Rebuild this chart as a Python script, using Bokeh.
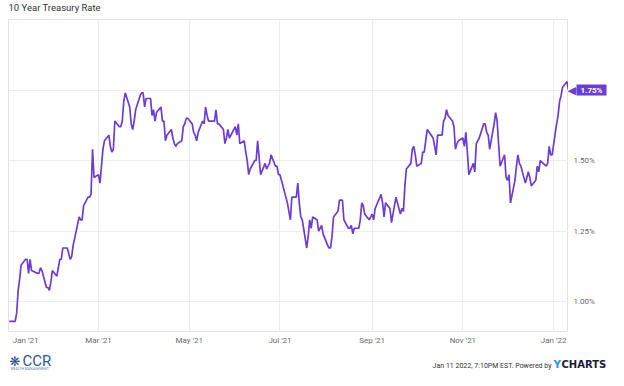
import pandas as pd
from bokeh.plotting import figure
from bokeh.layouts import column, row
from bokeh.models import (ColumnDataSource, Range1d, FixedTicker, DatetimeTickFormatter,
                          PrintfTickFormatter, Label, Grid)
from bokeh.core.properties import value
from bokeh.embed import file_html
from bokeh.resources import INLINE

# ---- data ----
dates = [
    "2020-12-31", "2021-01-04", "2021-01-05", "2021-01-06", "2021-01-07", "2021-01-08",
    "2021-01-11", "2021-01-12", "2021-01-13", "2021-01-14", "2021-01-15", "2021-01-19",
    "2021-01-20", "2021-01-21", "2021-01-22", "2021-01-25", "2021-01-26", "2021-01-27",
    "2021-01-28", "2021-01-29", "2021-02-01", "2021-02-02", "2021-02-03", "2021-02-04",
    "2021-02-05", "2021-02-08", "2021-02-09", "2021-02-10", "2021-02-11", "2021-02-12",
    "2021-02-16", "2021-02-17", "2021-02-18", "2021-02-19", "2021-02-22", "2021-02-23",
    "2021-02-24", "2021-02-25", "2021-02-26", "2021-03-01", "2021-03-02", "2021-03-03",
    "2021-03-04", "2021-03-05", "2021-03-08", "2021-03-09", "2021-03-10", "2021-03-11",
    "2021-03-12", "2021-03-15", "2021-03-16", "2021-03-17", "2021-03-18", "2021-03-19",
    "2021-03-22", "2021-03-23", "2021-03-24", "2021-03-25", "2021-03-26", "2021-03-29",
    "2021-03-30", "2021-03-31", "2021-04-01", "2021-04-02", "2021-04-05", "2021-04-06",
    "2021-04-07", "2021-04-08", "2021-04-09", "2021-04-12", "2021-04-13", "2021-04-14",
    "2021-04-15", "2021-04-16", "2021-04-19", "2021-04-20", "2021-04-21", "2021-04-22",
    "2021-04-23", "2021-04-26", "2021-04-27", "2021-04-28", "2021-04-29", "2021-04-30",
    "2021-05-03", "2021-05-04", "2021-05-05", "2021-05-06", "2021-05-07", "2021-05-10",
    "2021-05-11", "2021-05-12", "2021-05-13", "2021-05-14", "2021-05-17", "2021-05-18",
    "2021-05-19", "2021-05-20", "2021-05-21", "2021-05-24", "2021-05-25", "2021-05-26",
    "2021-05-27", "2021-05-28", "2021-06-01", "2021-06-02", "2021-06-03", "2021-06-04",
    "2021-06-07", "2021-06-08", "2021-06-09", "2021-06-10", "2021-06-11", "2021-06-14",
    "2021-06-15", "2021-06-16", "2021-06-17", "2021-06-18", "2021-06-21", "2021-06-22",
    "2021-06-23", "2021-06-24", "2021-06-25", "2021-06-28", "2021-06-29", "2021-06-30",
    "2021-07-01", "2021-07-02", "2021-07-06", "2021-07-07", "2021-07-08", "2021-07-09",
    "2021-07-12", "2021-07-13", "2021-07-14", "2021-07-15", "2021-07-16", "2021-07-19",
    "2021-07-20", "2021-07-21", "2021-07-22", "2021-07-23", "2021-07-26", "2021-07-27",
    "2021-07-28", "2021-07-29", "2021-07-30", "2021-08-02", "2021-08-03", "2021-08-04",
    "2021-08-05", "2021-08-06", "2021-08-09", "2021-08-10", "2021-08-11", "2021-08-12",
    "2021-08-13", "2021-08-16", "2021-08-17", "2021-08-18", "2021-08-19", "2021-08-20",
    "2021-08-23", "2021-08-24", "2021-08-25", "2021-08-26", "2021-08-27", "2021-08-30",
    "2021-08-31", "2021-09-01", "2021-09-02", "2021-09-03", "2021-09-07", "2021-09-08",
    "2021-09-09", "2021-09-10", "2021-09-13", "2021-09-14", "2021-09-15", "2021-09-16",
    "2021-09-17", "2021-09-20", "2021-09-21", "2021-09-22", "2021-09-23", "2021-09-24",
    "2021-09-27", "2021-09-28", "2021-09-29", "2021-09-30", "2021-10-01", "2021-10-04",
    "2021-10-05", "2021-10-06", "2021-10-07", "2021-10-08", "2021-10-12", "2021-10-13",
    "2021-10-14", "2021-10-15", "2021-10-18", "2021-10-19", "2021-10-20", "2021-10-21",
    "2021-10-22", "2021-10-25", "2021-10-26", "2021-10-27", "2021-10-28", "2021-10-29",
    "2021-11-01", "2021-11-02", "2021-11-03", "2021-11-04", "2021-11-05", "2021-11-08",
    "2021-11-09", "2021-11-10", "2021-11-12", "2021-11-15", "2021-11-16", "2021-11-17",
    "2021-11-18", "2021-11-19", "2021-11-22", "2021-11-23", "2021-11-24", "2021-11-26",
    "2021-11-29", "2021-11-30", "2021-12-01", "2021-12-02", "2021-12-03", "2021-12-06",
    "2021-12-07", "2021-12-08", "2021-12-09", "2021-12-10", "2021-12-13", "2021-12-14",
    "2021-12-15", "2021-12-16", "2021-12-17", "2021-12-20", "2021-12-21", "2021-12-22",
    "2021-12-23", "2021-12-27", "2021-12-28", "2021-12-29", "2021-12-30", "2021-12-31",
    "2022-01-03", "2022-01-04", "2022-01-05", "2022-01-06", "2022-01-07", "2022-01-10",
    "2022-01-11",
]
rates = [
    0.93, 0.93, 0.96, 1.04, 1.08, 1.13,
    1.15, 1.15, 1.10, 1.15, 1.11, 1.10,
    1.10, 1.12, 1.11, 1.05, 1.05, 1.04,
    1.07, 1.11, 1.09, 1.12, 1.15, 1.15,
    1.19, 1.19, 1.17, 1.15, 1.16, 1.20,
    1.30, 1.29, 1.29, 1.34, 1.37, 1.37,
    1.38, 1.54, 1.44, 1.45, 1.42, 1.48,
    1.54, 1.57, 1.59, 1.55, 1.53, 1.54,
    1.64, 1.62, 1.62, 1.64, 1.71, 1.74,
    1.69, 1.63, 1.61, 1.64, 1.68, 1.73,
    1.74, 1.74, 1.69, 1.72, 1.72, 1.66,
    1.68, 1.64, 1.67, 1.69, 1.64, 1.64,
    1.57, 1.59, 1.61, 1.58, 1.56, 1.55,
    1.56, 1.57, 1.62, 1.63, 1.65, 1.65,
    1.63, 1.60, 1.59, 1.57, 1.60, 1.64,
    1.63, 1.69, 1.66, 1.64, 1.64, 1.64,
    1.68, 1.63, 1.63, 1.61, 1.56, 1.58,
    1.61, 1.58, 1.62, 1.59, 1.63, 1.56,
    1.57, 1.53, 1.50, 1.45, 1.47, 1.50,
    1.50, 1.57, 1.51, 1.45, 1.49, 1.47,
    1.48, 1.49, 1.52, 1.48, 1.48, 1.45,
    1.45, 1.43, 1.35, 1.32, 1.29, 1.37,
    1.37, 1.42, 1.35, 1.30, 1.29, 1.19,
    1.23, 1.29, 1.26, 1.30, 1.29, 1.25,
    1.26, 1.27, 1.24, 1.20, 1.19, 1.19,
    1.23, 1.30, 1.32, 1.36, 1.36, 1.36,
    1.29, 1.26, 1.26, 1.27, 1.24, 1.26,
    1.26, 1.29, 1.35, 1.34, 1.31, 1.29,
    1.30, 1.31, 1.29, 1.33, 1.38, 1.35,
    1.30, 1.35, 1.33, 1.28, 1.31, 1.34,
    1.37, 1.31, 1.33, 1.32, 1.41, 1.47,
    1.49, 1.54, 1.55, 1.52, 1.48, 1.49,
    1.53, 1.53, 1.57, 1.61, 1.58, 1.55,
    1.52, 1.59, 1.59, 1.64, 1.65, 1.68,
    1.66, 1.64, 1.62, 1.54, 1.56, 1.57,
    1.58, 1.55, 1.60, 1.53, 1.45, 1.49,
    1.46, 1.56, 1.58, 1.63, 1.63, 1.60,
    1.59, 1.54, 1.63, 1.67, 1.64, 1.48,
    1.52, 1.44, 1.43, 1.45, 1.35, 1.43,
    1.48, 1.52, 1.49, 1.48, 1.42, 1.44,
    1.46, 1.44, 1.41, 1.43, 1.48, 1.46,
    1.50, 1.48, 1.49, 1.55, 1.52, 1.52,
    1.63, 1.66, 1.71, 1.73, 1.76, 1.78,
    1.75,
]
y_ticks = [1.00, 1.25, 1.50, 1.75]
grid_months = ["2021-03-01", "2021-05-01", "2021-07-01", "2021-09-01", "2021-11-01", "2022-01-01"]
first_label_at = "2021-01-11"   # where the clamped "Jan '21" label sits
title_text = "10 Year Treasury Rate"
stamp_text = "Jan 11 2022, 7:10PM EST. Powered by"
logo_text = "CCR"
logo_sub = "WEALTH MANAGEMENT"

PURPLE = "#6a3dd6"
GRID = "#ededed"
LABEL_GREY = "#6b6b6b"
W = 608
MAIN_W = 568
SIDE_W = W - MAIN_W
TOP = 19
FRAME_H = 314
BOTTOM = 14
ROW_H = TOP + FRAME_H + BOTTOM
FOOT_TOP = ROW_H
FOOT_H = 370 - ROW_H


def ms(d):
    return pd.Timestamp(d).timestamp() * 1000.0


def style_axis(ax):
    ax.axis_line_color = None
    ax.major_tick_line_color = None
    ax.minor_tick_line_color = None
    ax.major_tick_out = 0
    ax.major_tick_in = 0
    ax.major_label_text_color = LABEL_GREY
    ax.major_label_text_font = "Roboto"
    ax.major_label_text_font_size = "8px"


# ---- main chart ----
src = ColumnDataSource(dict(date=pd.to_datetime(dates), rate=rates))
x_start = ms(dates[0]) - 0.5 * 86400000
x_end = ms(dates[-1])
y_start, y_end = 0.894, 2.0
yr = Range1d(y_start, y_end)

p = figure(width=MAIN_W, height=ROW_H, x_axis_type="datetime", y_axis_location=None,
           output_backend="svg", toolbar_location=None,
           x_range=Range1d(x_start, x_end), y_range=yr,
           min_border_left=8, min_border_right=0, min_border_top=TOP,
           min_border_bottom=BOTTOM)
p.background_fill_color = "white"
p.border_fill_color = "white"
p.outline_line_color = "#e2e2e2"

p.line("date", "rate", source=src, line_color=PURPLE, line_width=1.7)

p.xaxis.ticker = FixedTicker(ticks=[ms(first_label_at)] + [ms(d) for d in grid_months])
p.xgrid.ticker = FixedTicker(ticks=[ms(d) for d in grid_months])
fmt = "%b '%y"
p.xaxis.formatter = DatetimeTickFormatter(days=fmt, months=fmt, years=fmt, hours=fmt,
                                          minutes=fmt, seconds=fmt, milliseconds=fmt,
                                          microseconds=fmt, minsec=fmt, hourmin=fmt)
style_axis(p.xaxis)
p.xaxis.major_label_standoff = 4
p.xgrid.grid_line_color = GRID

if len(p.ygrid) == 0:
    p.add_layout(Grid(dimension=1, ticker=FixedTicker(ticks=y_ticks)))
else:
    p.ygrid.ticker = FixedTicker(ticks=y_ticks)
p.ygrid.grid_line_color = GRID

# title (kept in the top panel so the frame does not clip it)
p.add_layout(Label(x=x_start, y=y_end, x_offset=0, y_offset=17.5, text=title_text,
                   text_align="left", text_baseline="top", text_color="#333333",
                   text_font="Roboto", text_font_size="9.5px"), "above")

# ---- right side: value axis and last-value badge ----
s = figure(width=SIDE_W, height=ROW_H, x_range=Range1d(0, 1), y_range=yr,
           x_axis_location=None, y_axis_location="right",
           output_backend="svg", toolbar_location=None,
           min_border_left=0, min_border_right=SIDE_W - 5, min_border_top=TOP,
           min_border_bottom=BOTTOM)
s.grid.visible = False
s.outline_line_color = None
s.background_fill_color = "white"
s.border_fill_color = "white"
s.yaxis.ticker = FixedTicker(ticks=y_ticks)
s.yaxis.formatter = PrintfTickFormatter(format="%.2f%%")
style_axis(s.yaxis)
s.yaxis.major_label_standoff = 0

last_val = rates[-1]
s.add_layout(Label(x=0, y=last_val, x_offset=-1, y_offset=0, text="\u25C0",
                   text_align="left", text_baseline="middle", text_color=PURPLE,
                   text_font="DejaVu Sans", text_font_size="11px"), "right")
s.add_layout(Label(x=0, y=last_val, x_offset=8, y_offset=0,
                   text="%.2f%%" % last_val, text_align="left", text_baseline="middle",
                   text_color="white", text_font="Roboto", text_font_style="bold",
                   text_font_size="8px", background_fill_color=PURPLE,
                   padding=(4, 1)), "above")

# ---- footer ----
foot = figure(width=W, height=FOOT_H, x_range=Range1d(0, W), y_range=Range1d(FOOT_H, 0),
              x_axis_location=None, y_axis_location=None, min_border=0,
              output_backend="svg", toolbar_location=None, frame_align=False)
foot.grid.visible = False
foot.outline_line_color = None
foot.background_fill_color = "white"
foot.border_fill_color = "white"


def fy(abs_y):
    return abs_y - FOOT_TOP


foot.text(x=[9], y=[fy(361)], text=["\u274B"], text_align="left", text_baseline="middle",
          text_color="#1f4f91", text_font=value("DejaVu Sans"), text_font_size="13px")
foot.text(x=[22], y=[fy(360.8)], text=[logo_text], text_align="left", text_baseline="middle",
          text_color="#2b5aa0", text_font=value("Roboto"), text_font_size="15px")
foot.text(x=[10], y=[fy(368)], text=[logo_sub], text_align="left", text_baseline="middle",
          text_color="#6f7f99", text_font=value("Roboto"), text_font_size="3.5px")
foot.text(x=[551], y=[fy(365.5)], text=[stamp_text], text_align="right",
          text_baseline="middle", text_color="#333333", text_font=value("Roboto"),
          text_font_size="7px")
foot.text(x=[553], y=[fy(363.5)], text=["Y"], text_align="left", text_baseline="middle",
          text_color="#2d9be0", text_font=value("DejaVu Sans"), text_font_style="bold",
          text_font_size="10.5px")
foot.text(x=[561], y=[fy(363.5)], text=["CHARTS"], text_align="left", text_baseline="middle",
          text_color="#1b1d36", text_font=value("DejaVu Sans"), text_font_style="bold",
          text_font_size="10px")

layout = column(row(p, s, spacing=0), foot, spacing=0)
open("out.html", "w").write(file_html(layout, INLINE))
